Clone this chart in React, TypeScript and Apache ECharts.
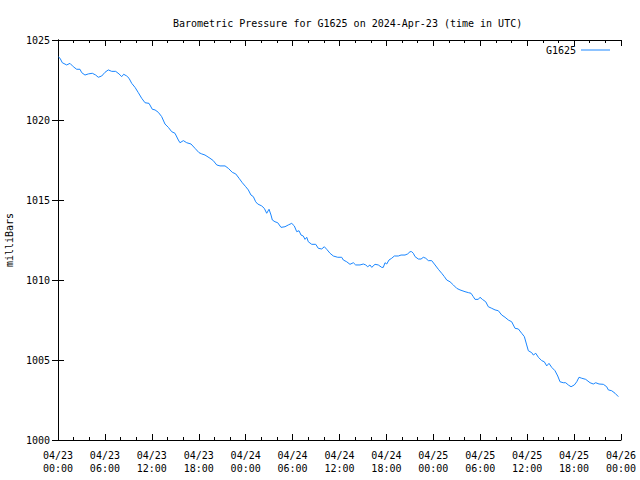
import React, { useEffect, useRef } from "react";
import * as echarts from "echarts";

// hours since 2024-04-23 00:00 UTC
const hours = [
  0.06, 0.26, 0.55, 1.11, 1.53, 1.96, 2.39, 2.81, 3.03, 3.45, 3.88, 4.39, 4.82, 5.15, 5.59,
  6.01, 6.43, 6.87, 7.38, 7.8, 8.15, 8.4, 8.79, 9.08, 9.43, 9.85, 10.27, 10.7, 11.13, 11.64,
  12.06, 12.41, 12.83, 13.26, 13.68, 14.11, 14.54, 14.96, 15.39, 15.6, 16.03, 16.46, 17.01,
  17.52, 18.03, 18.38, 18.8, 19.44, 19.86, 20.3, 20.72, 21.36, 21.78, 22.29, 22.73, 23.15,
  23.57, 24.01, 24.34, 24.68, 24.98, 25.28, 25.54, 26.05, 26.38, 26.69, 26.99, 27.24, 27.41,
  27.75, 28.1, 28.52, 29.03, 29.45, 29.89, 30.22, 30.53, 30.82, 31.08, 31.37, 31.59, 31.81,
  32.01, 32.45, 32.96, 33.29, 33.73, 34.06, 34.36, 34.79, 35.21, 35.77, 36.28, 36.49, 36.92,
  37.34, 37.77, 38.07, 38.62, 39.05, 39.35, 39.61, 39.9, 40.12, 40.54, 40.96, 41.4, 41.6,
  41.82, 42.04, 42.33, 42.68, 43.01, 43.52, 43.87, 44.38, 44.72, 45.02, 45.23, 45.44, 45.66,
  46.08, 46.43, 46.72, 47.03, 47.36, 47.79, 48.22, 48.64, 49.07, 49.41, 49.71, 50.13, 50.56,
  50.99, 51.41, 52.05, 52.48, 52.82, 53.11, 53.33, 53.75, 53.97, 54.27, 54.7, 55.03, 55.47,
  55.89, 56.31, 56.75, 57.17, 57.59, 58.02, 58.45, 58.87, 59.3, 59.64, 59.94, 60.15, 60.58,
  60.79, 61.1, 61.43, 61.86, 62.19, 62.5, 62.79, 63.14, 63.56, 63.91, 64.2, 64.62, 64.93,
  65.26, 65.61, 66.03, 66.34, 66.63, 66.98, 67.49, 68.04, 68.46, 68.77, 69.19, 69.74, 70.17,
  70.38, 70.81, 71.24, 71.66,
];

const pressure = [
  1023.94, 1023.86, 1023.58, 1023.44, 1023.54, 1023.33, 1023.17, 1023.17, 1022.96, 1022.81,
  1022.88, 1022.92, 1022.81, 1022.67, 1022.75, 1022.98, 1023.13, 1023.04, 1023.04, 1022.88,
  1022.71, 1022.86, 1022.75, 1022.61, 1022.29, 1022.04, 1021.71, 1021.36, 1021.08, 1021.04,
  1020.67, 1020.63, 1020.48, 1020.21, 1019.75, 1019.54, 1019.27, 1019.17, 1018.75, 1018.58,
  1018.71, 1018.58, 1018.5, 1018.23, 1017.96, 1017.88, 1017.81, 1017.61, 1017.46, 1017.19,
  1017.13, 1017.13, 1016.98, 1016.73, 1016.63, 1016.36, 1016.08, 1015.83, 1015.63, 1015.31,
  1015.21, 1014.89, 1014.75, 1014.63, 1014.48, 1014.17, 1014.42, 1014.06, 1013.75, 1013.64,
  1013.58, 1013.29, 1013.33, 1013.44, 1013.54, 1013.38, 1013.02, 1013.08, 1012.81, 1012.75,
  1012.54, 1012.67, 1012.39, 1012.23, 1012.23, 1011.98, 1011.94, 1012.08, 1011.92, 1011.67,
  1011.5, 1011.42, 1011.42, 1011.25, 1011.14, 1010.98, 1011.08, 1010.94, 1010.94, 1011.0,
  1010.94, 1010.83, 1010.94, 1010.79, 1010.98, 1010.94, 1010.79, 1010.79, 1011.08, 1011.0,
  1011.25, 1011.36, 1011.5, 1011.5, 1011.56, 1011.56, 1011.63, 1011.77, 1011.77, 1011.67,
  1011.46, 1011.31, 1011.31, 1011.42, 1011.36, 1011.21, 1011.21, 1010.94, 1010.67, 1010.42,
  1010.21, 1010.0, 1009.89, 1009.69, 1009.48, 1009.38, 1009.27, 1009.21, 1009.17, 1008.96,
  1008.79, 1008.79, 1008.92, 1008.79, 1008.64, 1008.33, 1008.23, 1008.13, 1008.08, 1007.81,
  1007.67, 1007.5, 1007.39, 1006.98, 1006.94, 1006.67, 1006.46, 1005.94, 1005.58, 1005.46,
  1005.31, 1005.42, 1005.17, 1004.96, 1004.89, 1004.63, 1004.79, 1004.54, 1004.33, 1004.0,
  1003.64, 1003.58, 1003.58, 1003.44, 1003.33, 1003.44, 1003.64, 1003.92, 1003.86, 1003.79,
  1003.58, 1003.5, 1003.58, 1003.5, 1003.48, 1003.33, 1003.13, 1003.08, 1002.92, 1002.71,
];

const xTickLabels = [
  "04/23\n00:00", "04/23\n06:00", "04/23\n12:00", "04/23\n18:00",
  "04/24\n00:00", "04/24\n06:00", "04/24\n12:00", "04/24\n18:00",
  "04/25\n00:00", "04/25\n06:00", "04/25\n12:00", "04/25\n18:00",
  "04/26\n00:00",
];

const titleText = "Barometric Pressure for G1625 on 2024-Apr-23 (time in UTC)";
const seriesName = "G1625";
const yAxisName = "milliBars";

const FONT = "'DejaVu Sans Mono', 'Liberation Mono', monospace";

export default function App() {
  const ref = useRef<HTMLDivElement>(null);

  useEffect(() => {
    document.body.style.margin = "0";
    if (!ref.current) return;
    const chart = echarts.init(ref.current, null, { renderer: "svg" });

    const axisCommon = {
      axisLine: { show: true, lineStyle: { color: "#000", width: 1 } },
      axisTick: { show: true, inside: true, length: 6, lineStyle: { color: "#000" } },
      splitLine: { show: false },
    };

    chart.setOption({
      animation: false,
      backgroundColor: "#fff",
      title: {
        text: titleText,
        left: 168,
        top: 13,
        textStyle: { fontFamily: FONT, fontSize: 10, fontWeight: "normal", color: "#000" },
      },
      legend: {
        data: [{ name: seriesName, icon: "rect" }],
        right: 25,
        top: 40,
        align: "right",
        itemWidth: 29,
        itemHeight: 1,
        textStyle: { fontFamily: FONT, fontSize: 10, color: "#000" },
      },
      grid: { left: 58, right: 19, top: 40, bottom: 40, containLabel: false, outerBoundsMode: "none" },
      xAxis: [
        {
          type: "value",
          min: 0,
          max: 72,
          interval: 6,
          position: "bottom",
          ...axisCommon,
          minorTick: { show: true, splitNumber: 3, length: 3, lineStyle: { color: "#000" } },
          axisLabel: {
            margin: 9,
            lineHeight: 13,
            fontFamily: FONT,
            fontSize: 10,
            color: "#000",
            formatter: (v: number) => xTickLabels[Math.round(v / 6)] ?? "",
          },
        },
        {
          type: "value",
          min: 0,
          max: 72,
          interval: 6,
          position: "top",
          ...axisCommon,
          minorTick: { show: true, splitNumber: 3, length: 3, lineStyle: { color: "#000" } },
          axisLabel: { show: false },
        },
      ],
      yAxis: [
        {
          type: "value",
          min: 1000,
          max: 1025,
          interval: 5,
          position: "left",
          ...axisCommon,
          name: yAxisName,
          nameLocation: "middle",
          nameRotate: 90,
          nameGap: 44,
          nameTextStyle: { fontFamily: FONT, fontSize: 10, color: "#000" },
          axisLabel: {
            margin: 8,
            fontFamily: FONT,
            fontSize: 10,
            color: "#000",
            formatter: (v: number) => String(v),
          },
        },
        {
          type: "value",
          min: 1000,
          max: 1025,
          interval: 5,
          position: "right",
          ...axisCommon,
          axisLabel: { show: false },
        },
      ],
      series: [
        {
          name: seriesName,
          type: "line",
          xAxisIndex: 0,
          yAxisIndex: 0,
          symbol: "none",
          lineStyle: { color: "#1a86ff", width: 1 },
          itemStyle: { color: "#1a86ff" },
          data: hours.map((h, i) => [h, pressure[i]]),
        },
      ],
    });

    return () => chart.dispose();
  }, []);

  return <div ref={ref} style={{ width: 640, height: 480 }} />;
}
